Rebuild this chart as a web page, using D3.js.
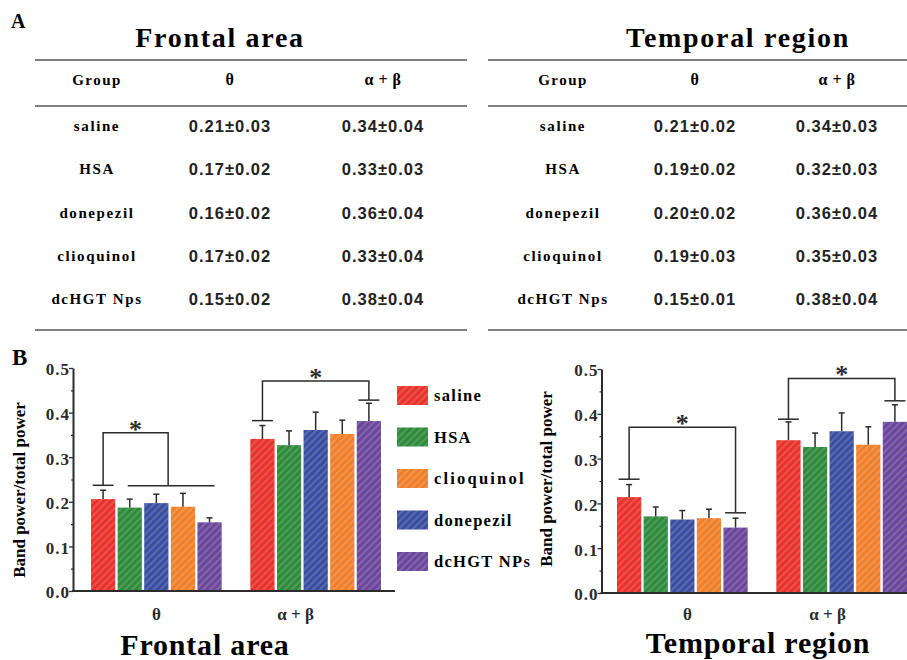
<!DOCTYPE html>
<html>
<head>
<meta charset="utf-8">
<script src="https://d3js.org/d3.v7.min.js"></script>
<style>
  body { margin: 0; background: #fff; }
  svg { display: block; }
</style>
</head>
<body>
<svg id="fig" width="907" height="660"></svg>
<script>
// ---- data ----
var groups = ["saline", "HSA", "donepezil", "clioquinol", "dcHGT NPs"];
var legendOrder = ["saline", "HSA", "clioquinol", "donepezil", "dcHGT NPs"];
var bands = ["θ", "α + β"];
var groupColors = ["#e8322b", "#2f8a3c", "#3a4ea0", "#f07f2b", "#6a479a"];

// bar heights
var frontalTheta = [0.206, 0.187, 0.197, 0.189, 0.154];
var frontalThetaErr = [0.020, 0.019, 0.020, 0.030, 0.010];
var frontalAlphaBeta = [0.341, 0.327, 0.361, 0.352, 0.381];
var frontalAlphaBetaErr = [0.030, 0.032, 0.040, 0.031, 0.040];

var temporalTheta = [0.214, 0.171, 0.164, 0.167, 0.146];
var temporalThetaErr = [0.028, 0.021, 0.020, 0.020, 0.021];
var temporalAlphaBeta = [0.341, 0.326, 0.361, 0.331, 0.382];
var temporalAlphaBetaErr = [0.041, 0.031, 0.041, 0.040, 0.038];

// significance brackets (y in data units)
var frontalBrackets = [
    {band: "θ", from: 0, to: [1, 4], fromCap: 0.237, toCap: 0.236, top: 0.355},
    {band: "α + β", from: 0, to: [4], fromCap: 0.382, toCap: 0.428, top: 0.471}
];
var temporalBrackets = [
    {band: "θ", from: 0, to: [4], fromCap: 0.254, toCap: 0.179, top: 0.370},
    {band: "α + β", from: 0, to: [4], fromCap: 0.388, toCap: 0.429, top: 0.479}
];

var yTicks = [0, 0.1, 0.2, 0.3, 0.4, 0.5];
var yMinorTicks = [0.05, 0.15, 0.25, 0.35, 0.45];

// table in panel A
var tableHeaders = ["Group", "θ", "α + β"];
var tableGroups = ["saline", "HSA", "donepezil", "clioquinol", "dcHGT Nps"];
var frontalThetaText = ["0.21±0.03", "0.17±0.02", "0.16±0.02", "0.17±0.02", "0.15±0.02"];
var frontalAlphaBetaText = ["0.34±0.04", "0.33±0.03", "0.36±0.04", "0.33±0.04", "0.38±0.04"];
var temporalThetaText = ["0.21±0.02", "0.19±0.02", "0.20±0.02", "0.19±0.03", "0.15±0.01"];
var temporalAlphaBetaText = ["0.34±0.03", "0.32±0.03", "0.36±0.04", "0.35±0.03", "0.38±0.04"];

var svg = d3.select("#fig");
var ink = "#2b2b2b";
var SERIF = "'Liberation Serif', 'Times New Roman', serif";
var SANS = "'Liberation Sans', Arial, sans-serif";

function serif(sel, size) {
    return sel.style("font-family", SERIF).style("font-weight", "bold").style("font-size", size + "px");
}

// white diagonal hatching used on every bar
var defs = svg.append("defs");
defs.append("pattern")
    .attr("id", "hatch")
    .attr("patternUnits", "userSpaceOnUse")
    .attr("width", 5)
    .attr("height", 5)
    .attr("patternTransform", "rotate(45)")
    .append("line")
    .attr("x1", 1).attr("y1", 0).attr("x2", 1).attr("y2", 5)
    .attr("stroke", "#fff")
    .attr("stroke-width", 0.8)
    .attr("stroke-opacity", 0.4);

// ---- panel letters ----
serif(svg.append("text"), 20).attr("x", 11).attr("y", 28).text("A");
serif(svg.append("text"), 23).attr("x", 12).attr("y", 365).text("B");

// ---- panel A: tables ----
function drawTable(opt) {
    var g = svg.append("g");
    serif(g.append("text"), 28)
        .attr("x", opt.titleX).attr("y", 47)
        .attr("text-anchor", "middle")
        .attr("letter-spacing", 1.7)
        .text(opt.title);

    [60, 106, 330].forEach(function(y) {
        g.append("line")
            .attr("x1", opt.x0).attr("x2", opt.x1)
            .attr("y1", y).attr("y2", y)
            .attr("stroke", "#555").attr("stroke-width", 1.5);
    });

    var rowY = d3.scalePoint().domain(d3.range(tableGroups.length)).range([126, 299]);

    tableHeaders.forEach(function(h, i) {
        serif(g.append("text"), i == 0 ? 15 : 16)
            .attr("x", opt.cols[i]).attr("y", 85)
            .attr("text-anchor", "middle")
            .attr("letter-spacing", i == 0 ? 1.5 : 0.5)
            .text(h);
    });

    tableGroups.forEach(function(name, i) {
        serif(g.append("text"), 15)
            .attr("x", opt.cols[0]).attr("y", rowY(i) + 5)
            .attr("text-anchor", "middle")
            .attr("letter-spacing", 1.6)
            .text(name);
        [opt.theta[i], opt.alphaBeta[i]].forEach(function(v, k) {
            g.append("text")
                .style("font-family", SANS).style("font-weight", "bold").style("font-size", "16.5px")
                .attr("x", opt.cols[k + 1]).attr("y", rowY(i) + 6)
                .attr("text-anchor", "middle")
                .attr("letter-spacing", 1)
                .attr("fill", "#222")
                .text(v);
        });
    });
}

drawTable({title: "Frontal area", titleX: 220, x0: 35, x1: 467, cols: [97, 230, 383],
    theta: frontalThetaText, alphaBeta: frontalAlphaBetaText});
drawTable({title: "Temporal region", titleX: 738, x0: 488, x1: 907, cols: [563, 695, 837],
    theta: temporalThetaText, alphaBeta: temporalAlphaBetaText});

// ---- panel B: bar charts ----
function drawChart(opt) {
    var g = svg.append("g");

    var y = d3.scaleLinear().domain([0, 0.5]).range([opt.y0, opt.y1]);
    var x0 = d3.scaleBand().domain(bands).range([opt.barsFrom, opt.barsTo]).paddingInner(0.18);
    var x1 = d3.scaleBand().domain(d3.range(groups.length)).range([0, x0.bandwidth()]).paddingInner(0.09);

    var series = [
        {band: "θ", mean: opt.theta, err: opt.thetaErr},
        {band: "α + β", mean: opt.alphaBeta, err: opt.alphaBetaErr}
    ];

    function cx(band, i) { return x0(band) + x1(i) + x1.bandwidth() / 2; }

    var bar = g.selectAll(".band")
        .data(series).enter().append("g")
        .attr("transform", function(d) { return "translate(" + x0(d.band) + ",0)"; })
        .selectAll("g")
        .data(function(d) {
            return d.mean.map(function(m, i) { return {i: i, mean: m, err: d.err[i]}; });
        })
        .enter().append("g");

    bar.append("rect")
        .attr("x", function(d) { return x1(d.i); })
        .attr("y", function(d) { return y(d.mean); })
        .attr("width", x1.bandwidth())
        .attr("height", function(d) { return y(0) - y(d.mean); })
        .attr("fill", function(d) { return groupColors[d.i]; });

    bar.append("rect")
        .attr("x", function(d) { return x1(d.i); })
        .attr("y", function(d) { return y(d.mean); })
        .attr("width", x1.bandwidth())
        .attr("height", function(d) { return y(0) - y(d.mean); })
        .attr("fill", "url(#hatch)");

    // error bars (upper only)
    bar.append("line")
        .attr("x1", function(d) { return x1(d.i) + x1.bandwidth() / 2; })
        .attr("x2", function(d) { return x1(d.i) + x1.bandwidth() / 2; })
        .attr("y1", function(d) { return y(d.mean); })
        .attr("y2", function(d) { return y(d.mean + d.err); })
        .attr("stroke", ink).attr("stroke-width", 1.5);
    bar.append("line")
        .attr("x1", function(d) { return x1(d.i) + x1.bandwidth() / 2 - 3; })
        .attr("x2", function(d) { return x1(d.i) + x1.bandwidth() / 2 + 3; })
        .attr("y1", function(d) { return y(d.mean + d.err); })
        .attr("y2", function(d) { return y(d.mean + d.err); })
        .attr("stroke", ink).attr("stroke-width", 1.5);

    // significance brackets
    opt.brackets.forEach(function(b) {
        var xa = cx(b.band, b.from), xb;
        var line = function(xA, yA, xB, yB) {
            g.append("line")
                .attr("x1", xA).attr("y1", yA).attr("x2", xB).attr("y2", yB)
                .attr("stroke", ink).attr("stroke-width", 1.5);
        };
        line(xa - 10.5, y(b.fromCap), xa + 10.5, y(b.fromCap));
        if (b.to.length > 1) {
            var xs = cx(b.band, b.to[0]) - 2, xe = cx(b.band, b.to[1]) + 5;
            line(xs, y(b.toCap), xe, y(b.toCap));
            xb = (xs + xe) / 2 - 3;
        } else {
            xb = cx(b.band, b.to[0]);
            line(xb - 10.5, y(b.toCap), xb + 10.5, y(b.toCap));
        }
        g.append("path")
            .attr("d", "M" + xa + "," + y(b.fromCap) + "V" + y(b.top) + "H" + xb + "V" + y(b.toCap))
            .attr("fill", "none").attr("stroke", ink).attr("stroke-width", 1.5);
        serif(g.append("text"), 26)
            .attr("x", (xa + xb) / 2).attr("y", y(b.top) + 5)
            .attr("text-anchor", "middle")
            .attr("fill", ink)
            .text("*");
    });

    // y axis
    var yAxis = g.append("g")
        .attr("transform", "translate(" + opt.axisX + ",0)")
        .call(d3.axisLeft(y).tickValues(yTicks).tickFormat(d3.format(".1f")).tickSize(4).tickSizeOuter(0));
    yAxis.select(".domain").attr("stroke", ink).attr("stroke-width", 2);
    yAxis.selectAll(".tick line").attr("stroke", ink).attr("stroke-width", 1.3);
    serif(yAxis.selectAll(".tick text"), 17)
        .attr("letter-spacing", 1)
        .attr("fill", ink)
        .attr("x", -3)
        .attr("dy", "0.4em");

    var yMinor = g.append("g")
        .attr("transform", "translate(" + opt.axisX + ",0)")
        .call(d3.axisLeft(y).tickValues(yMinorTicks).tickFormat("").tickSize(2).tickSizeOuter(0));
    yMinor.select(".domain").remove();
    yMinor.selectAll(".tick line").attr("stroke", ink).attr("stroke-width", 1.2);

    // x axis
    g.append("line")
        .attr("x1", opt.axisX - 1).attr("x2", opt.axisEnd)
        .attr("y1", y(0)).attr("y2", y(0))
        .attr("stroke", ink).attr("stroke-width", 2);
    bands.forEach(function(b, i) {
        serif(g.append("text"), 17)
            .attr("x", x0(b) + x0.bandwidth() / 2 + opt.labelShift[i])
            .attr("y", 620)
            .attr("text-anchor", "middle")
            .attr("fill", ink)
            .text(b);
    });

    // y label
    serif(g.append("text"), 17)
        .attr("transform", "translate(" + opt.yLabelX + "," + opt.yLabelY + ") rotate(-90)")
        .attr("text-anchor", "middle")
        .text("Band power/total power");

    // title below
    serif(g.append("text"), 30)
        .attr("x", opt.titleX).attr("y", opt.titleY)
        .attr("text-anchor", "middle")
        .attr("letter-spacing", 0.8)
        .text(opt.title);
}

drawChart({
    axisX: 73, axisEnd: 395, barsFrom: 91, barsTo: 381, y0: 591, y1: 368,
    theta: frontalTheta, thetaErr: frontalThetaErr,
    alphaBeta: frontalAlphaBeta, alphaBetaErr: frontalAlphaBetaErr,
    brackets: frontalBrackets, labelShift: [0, -20],
    yLabelX: 25, yLabelY: 490, title: "Frontal area", titleX: 205, titleY: 655
});
drawChart({
    axisX: 601.5, axisEnd: 907, barsFrom: 617, barsTo: 907, y0: 593, y1: 369,
    theta: temporalTheta, thetaErr: temporalThetaErr,
    alphaBeta: temporalAlphaBeta, alphaBetaErr: temporalAlphaBetaErr,
    brackets: temporalBrackets, labelShift: [5, -14],
    yLabelX: 552, yLabelY: 479, title: "Temporal region", titleX: 758, titleY: 653
});

// legend
var legend = svg.append("g");
var ly = d3.scalePoint().domain(legendOrder).range([386, 552]);
legendOrder.forEach(function(name) {
    var c = groupColors[groups.indexOf(name)];
    legend.append("rect").attr("x", 397).attr("y", ly(name)).attr("width", 31).attr("height", 19).attr("fill", c);
    legend.append("rect").attr("x", 397).attr("y", ly(name)).attr("width", 31).attr("height", 19).attr("fill", "url(#hatch)");
    serif(legend.append("text"), 16.5)
        .attr("x", 434).attr("y", ly(name) + 15)
        .attr("letter-spacing", name == "clioquinol" ? 2.2 : 1.3)
        .text(name);
});
</script>
</body>
</html>
